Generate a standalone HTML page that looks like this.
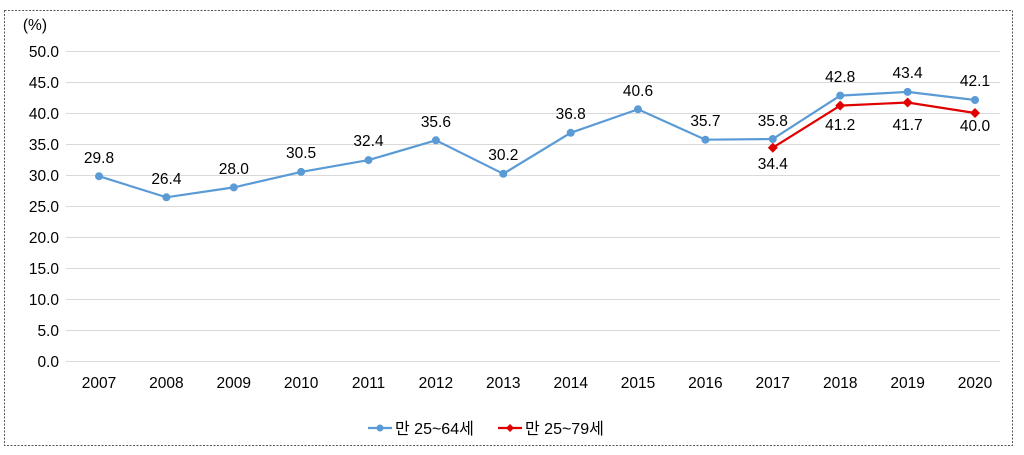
<!DOCTYPE html>
<html><head><meta charset="utf-8"><style>
body{margin:0;background:#fff;}
svg text{font-family:"Liberation Sans","Noto Sans CJK KR",sans-serif;fill:#000;}
</style></head><body>
<svg width="1024" height="450" xmlns="http://www.w3.org/2000/svg">
<rect x="4.5" y="10.5" width="1008" height="435" fill="none" stroke="#555" stroke-dasharray="2,1.5"/>
<g stroke="#d9d9d9" stroke-width="1">
<line x1="66" x2="1000" y1="51.5" y2="51.5"/><line x1="66" x2="1000" y1="82.5" y2="82.5"/>
<line x1="66" x2="1000" y1="113.5" y2="113.5"/><line x1="66" x2="1000" y1="144.5" y2="144.5"/>
<line x1="66" x2="1000" y1="175.5" y2="175.5"/><line x1="66" x2="1000" y1="206.5" y2="206.5"/>
<line x1="66" x2="1000" y1="237.5" y2="237.5"/><line x1="66" x2="1000" y1="268.5" y2="268.5"/>
<line x1="66" x2="1000" y1="299.5" y2="299.5"/><line x1="66" x2="1000" y1="330.5" y2="330.5"/>
<line x1="66" x2="1000" y1="361.5" y2="361.5"/>
</g>
<g font-size="15.5" text-anchor="end">
<text x="47" y="30">(%)</text>
<text x="59" y="57">50.0</text><text x="59" y="88">45.0</text><text x="59" y="119">40.0</text>
<text x="59" y="150">35.0</text><text x="59" y="181">30.0</text><text x="59" y="212">25.0</text>
<text x="59" y="243">20.0</text><text x="59" y="274">15.0</text><text x="59" y="305">10.0</text>
<text x="59" y="336">5.0</text><text x="59" y="367">0.0</text>
</g>
<g font-size="15.5" text-anchor="middle">
<text x="99" y="388">2007</text><text x="166.4" y="388">2008</text><text x="233.8" y="388">2009</text>
<text x="301.1" y="388">2010</text><text x="368.5" y="388">2011</text><text x="435.9" y="388">2012</text>
<text x="503.3" y="388">2013</text><text x="570.7" y="388">2014</text><text x="638" y="388">2015</text>
<text x="705.4" y="388">2016</text><text x="772.8" y="388">2017</text><text x="840.2" y="388">2018</text>
<text x="907.6" y="388">2019</text><text x="975" y="388">2020</text>
</g>
<polyline fill="none" stroke="#5b9bd5" stroke-width="2.2" points="99,176.2 166.4,197.3 233.8,187.4 301.1,171.9 368.5,160.1 435.9,140.3 503.3,173.8 570.7,132.8 638,109.3 705.4,139.7 772.8,139 840.2,95.6 907.6,91.9 975,100"/>
<g fill="#5b9bd5">
<circle cx="99" cy="176.2" r="4"/><circle cx="166.4" cy="197.3" r="4"/><circle cx="233.8" cy="187.4" r="4"/>
<circle cx="301.1" cy="171.9" r="4"/><circle cx="368.5" cy="160.1" r="4"/><circle cx="435.9" cy="140.3" r="4"/>
<circle cx="503.3" cy="173.8" r="4"/><circle cx="570.7" cy="132.8" r="4"/><circle cx="638" cy="109.3" r="4"/>
<circle cx="705.4" cy="139.7" r="4"/><circle cx="772.8" cy="139" r="4"/><circle cx="840.2" cy="95.6" r="4"/>
<circle cx="907.6" cy="91.9" r="4"/><circle cx="975" cy="100" r="4"/>
</g>
<polyline fill="none" stroke="#e00000" stroke-width="2.2" points="772.8,147.7 840.2,105.6 907.6,102.5 975,113"/>
<g fill="#e00000">
<path d="M772.8,142.7l5,5l-5,5l-5,-5z"/><path d="M840.2,100.6l5,5l-5,5l-5,-5z"/>
<path d="M907.6,97.5l5,5l-5,5l-5,-5z"/><path d="M975,108l5,5l-5,5l-5,-5z"/>
</g>
<g font-size="15.5" text-anchor="middle">
<text x="99" y="163">29.8</text><text x="166.4" y="184">26.4</text><text x="233.8" y="174">28.0</text>
<text x="301.1" y="158">30.5</text><text x="368.5" y="146">32.4</text><text x="435.9" y="127">35.6</text>
<text x="503.3" y="160">30.2</text><text x="570.7" y="119">36.8</text><text x="638" y="96">40.6</text>
<text x="705.4" y="126">35.7</text><text x="772.8" y="126">35.8</text><text x="840.2" y="82">42.8</text>
<text x="907.6" y="78">43.4</text><text x="975" y="86">42.1</text>
<text x="772.8" y="169">34.4</text><text x="840.2" y="130">41.2</text><text x="907.6" y="130">41.7</text><text x="975" y="131">40.0</text>
</g>
<line x1="368" x2="392" y1="428" y2="428" stroke="#5b9bd5" stroke-width="2.2"/>
<circle cx="380" cy="428" r="3.5" fill="#5b9bd5"/>
<text x="395" y="434" font-size="16">만 25~64세</text>
<line x1="498" x2="522" y1="428" y2="428" stroke="#e00000" stroke-width="2.2"/>
<path d="M510,424l4,4l-4,4l-4,-4z" fill="#e00000"/>
<text x="525" y="434" font-size="16">만 25~79세</text>
</svg>
</body></html>
